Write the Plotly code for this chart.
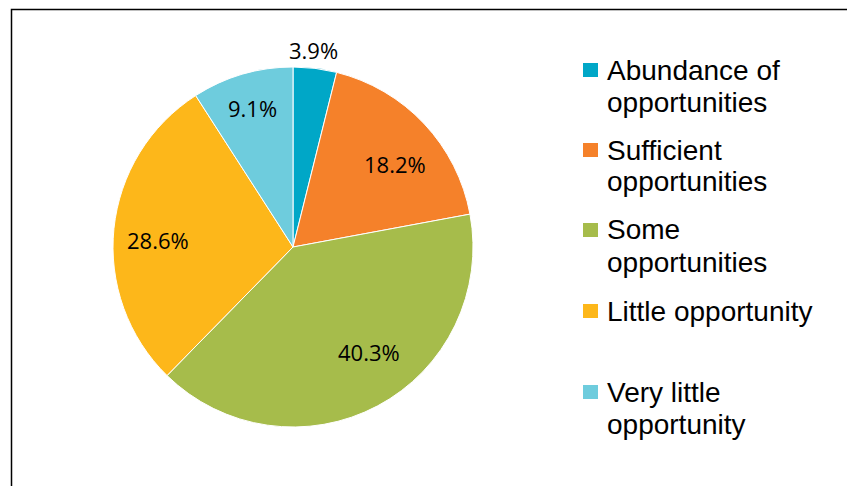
import math
import plotly.graph_objects as go

# Survey responses: perceived opportunities (share of respondents, %)
categories = [
    "Abundance of opportunities",
    "Sufficient opportunities",
    "Some opportunities",
    "Little opportunity",
    "Very little opportunity",
]
legend_lines = [
    ["Abundance of", "opportunities"],
    ["Sufficient", "opportunities"],
    ["Some", "opportunities"],
    ["Little opportunity"],
    ["Very little", "opportunity"],
]
shares = [3.9, 18.2, 40.3, 28.6, 9.1]
colors = ["#00A7C7", "#F5812A", "#A6BC4B", "#FDB71A", "#6ECCDD"]

W, H = 847, 486
CX, CY, R = 293, 247, 180  # pie centre / radius in pixels (from top-left)

fig = go.Figure(
    go.Pie(
        labels=categories,
        values=shares,
        marker=dict(colors=colors, line=dict(color="white", width=1)),
        sort=False,
        direction="clockwise",
        rotation=0,
        textinfo="none",
        hoverinfo="label+value",
        showlegend=False,
        domain=dict(
            x=[(CX - R) / W, (CX + R) / W],
            y=[(H - CY - R) / H, (H - CY + R) / H],
        ),
    )
)

annotations = []
shapes = []

# Value labels placed around each slice's mid angle
label_offset_deg = [-1, 4, -8, -3, 0]
label_radius = [1.1, 0.73, 0.72, 0.75, 0.805]
total = sum(shares)
cum = 0.0
for v, off, rf in zip(shares, label_offset_deg, label_radius):
    mid = (cum + v / 2) / total * 360 + off
    cum += v
    px = CX + rf * R * math.sin(math.radians(mid))
    py = CY - rf * R * math.cos(math.radians(mid))
    annotations.append(dict(
        x=px / W, y=1 - py / H, xref="paper", yref="paper",
        text=f"{v:.1f}%", showarrow=False,
        xanchor="center", yanchor="middle",
        font=dict(family="Open Sans", size=22, color="#000000"),
    ))

# Legend drawn as colour squares with wrapped text beside them
entry_top = [70, 150, 230, 311, 392]
line_gap = 32
for lines, col, y0 in zip(legend_lines, colors, entry_top):
    shapes.append(dict(
        type="rect", xref="paper", yref="paper",
        x0=583 / W, x1=598 / W, y0=1 - (y0 - 7) / H, y1=1 - (y0 + 7) / H,
        fillcolor=col, line=dict(width=0),
    ))
    for i, ln in enumerate(lines):
        annotations.append(dict(
            x=605 / W, y=1 - (y0 + i * line_gap) / H,
            xref="paper", yref="paper",
            text=ln, showarrow=False,
            xanchor="left", yanchor="middle",
            font=dict(family="Liberation Sans", size=28, color="#000000"),
        ))

# Chart frame
shapes.append(dict(
    type="rect", xref="paper", yref="paper",
    x0=11.5 / W, x1=1.05, y0=-0.05, y1=1 - 9.5 / H,
    line=dict(color="#000000", width=1.5), fillcolor="rgba(0,0,0,0)",
))

fig.update_layout(
    width=W, height=H,
    margin=dict(l=0, r=0, t=0, b=0),
    paper_bgcolor="white",
    plot_bgcolor="white",
    annotations=annotations,
    shapes=shapes,
)

fig.write_html("out.html")
